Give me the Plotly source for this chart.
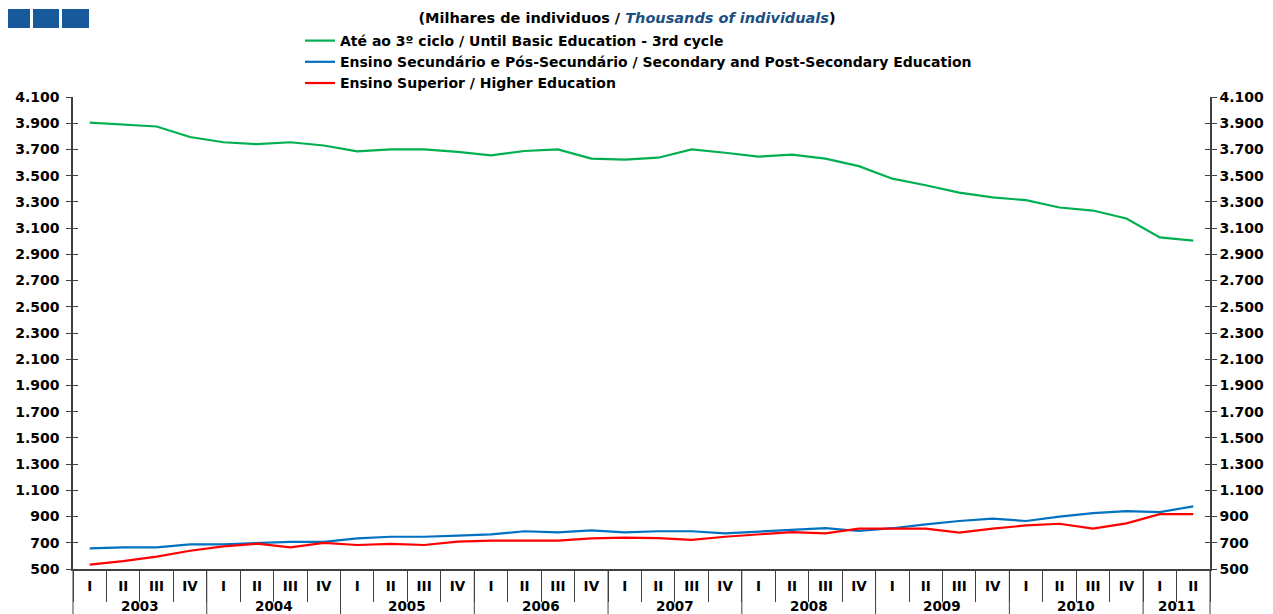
import plotly.graph_objects as go

# quarters 2003 I .. 2011 II
years = ["2003"] * 4 + ["2004"] * 4 + ["2005"] * 4 + ["2006"] * 4 + ["2007"] * 4 \
    + ["2008"] * 4 + ["2009"] * 4 + ["2010"] * 4 + ["2011"] * 2
quarters = ["I", "II", "III", "IV"] * 8 + ["I", "II"]

basic = [3905, 3890, 3875, 3795, 3755, 3740, 3755, 3730, 3685, 3700, 3700, 3682,
         3655, 3688, 3700, 3630, 3622, 3637, 3700, 3675, 3645, 3660, 3630, 3573,
         3477, 3427, 3371, 3335, 3313, 3257, 3234, 3173, 3029, 3004]
secondary = [657, 665, 665, 688, 688, 699, 707, 707, 733, 746, 746, 754,
             764, 788, 780, 795, 780, 788, 788, 772, 785, 793, 811, 790,
             811, 840, 866, 884, 866, 900, 926, 942, 934, 978]
higher = [534, 560, 594, 639, 673, 693, 665, 699, 683, 691, 683, 709,
          717, 717, 717, 733, 740, 735, 722, 746, 764, 782, 772, 808,
          808, 808, 777, 808, 832, 845, 808, 848, 918, 918]

names = [
    "Até ao 3º ciclo / Until Basic Education - 3rd cycle",
    "Ensino Secundário e Pós-Secundário / Secondary and Post-Secondary Education",
    "Ensino Superior / Higher Education",
]
colors = ["#00b050", "#0070c0", "#ff0000"]

# page has an 8px body margin, so the figure is a little smaller than the window
OFF = 8
W, H = 1273 - OFF, 614 - OFF
L, R, T, B = 73 - OFF, 1273 - 1210, 97 - OFF, 614 - 569
FONT = "DejaVu Sans"
AX = "#404040"


def px_x(p):
    return (p - OFF - L) / (W - L - R)


def px_y(p):
    return (H - B - (p - OFF)) / (H - T - B)


cats = [f"{y} {q}" for y, q in zip(years, quarters)]
n = len(cats)

fig = go.Figure()
for vals, name, col in zip([basic, secondary, higher], names, colors):
    fig.add_trace(go.Scatter(x=cats, y=vals, name=name, mode="lines",
                             line=dict(color=col, width=2.2)))
# empty traces so the mirror / cross-tick axes get drawn
for ax in ["y2", "y3", "y4"]:
    fig.add_trace(go.Scatter(x=[], y=[], yaxis=ax, showlegend=False, hoverinfo="skip"))

yax = dict(range=[500, 4100], dtick=200, tick0=500, tickformat=",d", showgrid=False,
           zeroline=False, showline=True, linecolor=AX, linewidth=1.5,
           tickcolor=AX, ticklen=5, tickwidth=1.2, automargin=False,
           tickfont=dict(family=FONT, size=14, color="black", weight="bold"))

fig.update_layout(
    width=W, height=H,
    margin=dict(l=L, r=R, t=T, b=B),
    plot_bgcolor="white", paper_bgcolor="white",
    separators=",.",
    title=dict(text="(Milhares de individuos / <i><span style='color:#1c4f82'>Thousands of individuals</span></i>)",
               x=(627 - OFF) / W, xanchor="center", xref="container",
               y=1 - (18 - OFF) / H, yanchor="middle", yref="container",
               font=dict(family=FONT, size=14.5, color="black", weight="bold")),
    legend=dict(x=px_x(300), y=px_y(25), xanchor="left", yanchor="top",
                bgcolor="rgba(0,0,0,0)", tracegroupgap=0,
                font=dict(family=FONT, size=14, color="black", weight="bold")),
    xaxis=dict(type="category", range=[-0.5, n - 0.5], showgrid=False,
               tickvals=cats, ticktext=quarters,
               showline=True, linecolor=AX, linewidth=1.5,
               ticks="outside", tickson="boundaries", ticklen=31, tickcolor=AX,
               ticklabelstandoff=4, automargin=False,
               tickfont=dict(family=FONT, size=13.5, color="black", weight="bold")),
    yaxis=dict(yax, side="left", ticks="outside", ticklabelstandoff=4),
    yaxis2=dict(yax, side="right", ticks="outside", overlaying="y", anchor="x"),
    yaxis3=dict(yax, side="left", ticks="inside", overlaying="y", anchor="x",
                showticklabels=False),
    yaxis4=dict(yax, side="right", ticks="inside", overlaying="y", anchor="x",
                showticklabels=False),
)

# year row: labels centred under their quarters, dividers at year boundaries
year_list = list(dict.fromkeys(years))
for yr in year_list:
    idx = [i for i, v in enumerate(years) if v == yr]
    fig.add_annotation(x=(idx[0] + idx[-1]) / 2, xref="x", y=px_y(606), yref="paper",
                       text=yr, showarrow=False, yanchor="middle",
                       font=dict(family=FONT, size=13.5, color="black", weight="bold"))
    fig.add_shape(type="line", xref="paper", yref="paper",
                  x0=(idx[0]) / n, x1=(idx[0]) / n, y0=px_y(569), y1=px_y(630),
                  line=dict(color=AX, width=1))
fig.add_shape(type="line", xref="paper", yref="paper", x0=1, x1=1,
              y0=px_y(569), y1=px_y(630), line=dict(color=AX, width=1))

# three blue header squares
for x0, x1 in [(3, 30), (33, 59), (62, 89)]:
    fig.add_shape(type="rect", xref="paper", yref="paper",
                  x0=px_x(x0), x1=px_x(x1), y0=px_y(28), y1=px_y(9),
                  fillcolor="#17599a", line_width=0, layer="above")

fig.write_html("out.html")
